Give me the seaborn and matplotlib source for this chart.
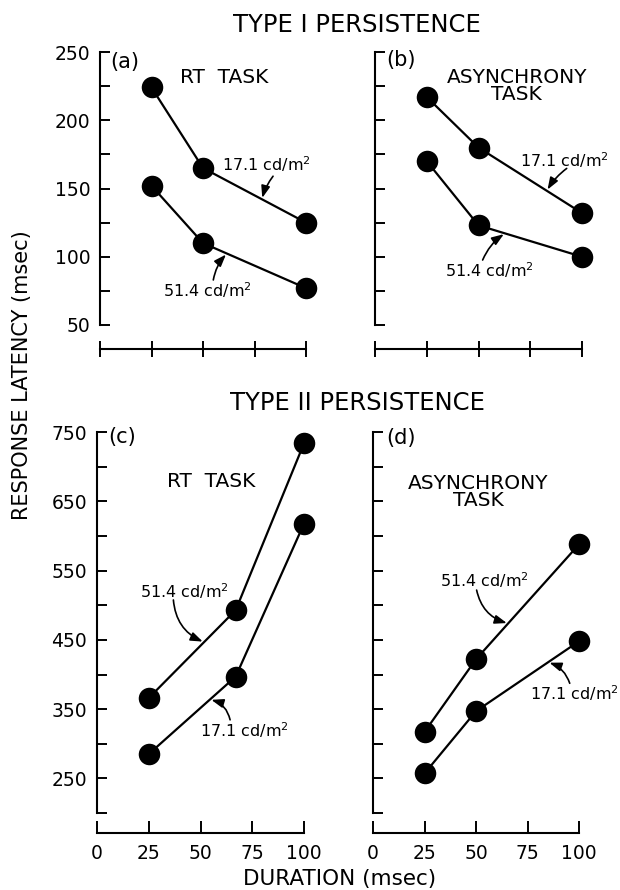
import numpy as np
import pandas as pd
import matplotlib
matplotlib.use("Agg")
import matplotlib.pyplot as plt
import seaborn as sns

# ---------------- data ----------------
duration_a = [25, 50, 100]
a_171 = [224, 165, 125]
a_514 = [152, 110, 77]

duration_b = [25, 50, 100]
b_171 = [217, 180, 132]
b_514 = [170, 123, 100]

duration_c = [25, 67, 100]
c_514 = [366, 493, 734]
c_171 = [285, 397, 618]

duration_d = [25, 50, 100]
d_514 = [317, 422, 588]
d_171 = [257, 347, 448]

lum_labels = ["17.1", "51.4"]
x_ticks = [0, 25, 50, 75, 100]
y_major_top = [50, 100, 150, 200, 250]
y_minor_top = [75, 125, 175, 225]
y_major_bot = [250, 350, 450, 550, 650, 750]
y_minor_bot = [200, 300, 400, 500, 600, 700]

sns.set_theme(style="ticks")
plt.rcParams["font.family"] = ["DejaVu Sans"]
plt.rcParams["text.color"] = "black"
plt.rcParams["axes.labelcolor"] = "black"
plt.rcParams["xtick.color"] = "black"
plt.rcParams["ytick.color"] = "black"
plt.rcParams["mathtext.default"] = "regular"

fig = plt.figure(figsize=(6.2, 8.9), dpi=100)
W, H = 620.0, 890.0

def frac(l, t, w, h):
    return [l / W, (H - t - h) / H, w / W, h / H]

ax_a = fig.add_axes(frac(100, 52, 206, 273))
ax_b = fig.add_axes(frac(375, 52, 207, 273))
ax_c = fig.add_axes(frac(97, 432.3, 207, 380.6))
ax_d = fig.add_axes(frac(373, 432.3, 206, 380.6))


def make_df(dur, v17, v51):
    return pd.DataFrame({
        "duration": list(dur) + list(dur),
        "latency": list(v17) + list(v51),
        "lum": [lum_labels[0]] * len(dur) + [lum_labels[1]] * len(dur),
    })


def draw(ax, dur, v17, v51):
    df = make_df(dur, v17, v51)
    sns.lineplot(data=df, x="duration", y="latency", hue="lum",
                 palette={lum_labels[0]: "black", lum_labels[1]: "black"},
                 estimator=None, legend=False, ax=ax, lw=1.6,
                 marker="o", markersize=15.5, markeredgewidth=0,
                 clip_on=False)
    ax.set_xlabel("")
    ax.set_ylabel("")


def style(ax, top, ylabels):
    ax.set_xlim(0, 100)
    sns.despine(ax=ax)
    ax.set_xticks(x_ticks)
    if top:
        ax.set_ylim(50, 250)
        ax.set_yticks(y_major_top)
        ax.set_yticks(y_minor_top, minor=True)
        ax.spines["bottom"].set_position(("outward", 17.5))
        ax.tick_params(axis="x", direction="inout", length=12, width=1.4,
                       labelbottom=False)
    else:
        ax.set_ylim(200, 750)
        ax.set_yticks(y_major_bot)
        ax.set_yticks(y_minor_bot, minor=True)
        ax.spines["bottom"].set_position(("outward", 14.5))
        ax.tick_params(axis="x", direction="in", length=9, width=1.4,
                       labelsize=13.5, pad=8)
    ax.tick_params(axis="y", which="both", direction="in", length=7,
                   width=1.4, labelsize=13.5, pad=7, labelleft=ylabels)
    for s in ("left", "bottom"):
        ax.spines[s].set_linewidth(1.5)
        ax.spines[s].set_color("black")


def arrow(ax, start, tip_x, dur, vals, rad):
    tip = (tip_x, float(np.interp(tip_x, dur, vals)))
    ax.annotate("", xy=tip, xytext=start,
                arrowprops=dict(arrowstyle="-|>,head_length=0.6,head_width=0.22",
                                color="black", lw=1.2, shrinkA=0, shrinkB=1,
                                connectionstyle=f"arc3,rad={rad}"),
                annotation_clip=False)


lab = "cd/m$^2$"
fs_small = 11.5
fs_task = 14.5
fs_panel = 15

# panel a
draw(ax_a, duration_a, a_171, a_514)
style(ax_a, True, True)
ax_a.text(5.0, 243, "(a)", fontsize=fs_panel, va="center")
ax_a.text(38.8, 231.4, "RT  TASK", fontsize=fs_task, va="center")
ax_a.text(59, 167.7, "17.1 " + lab, fontsize=fs_small, va="center")
arrow(ax_a, (84, 159), 78.6, duration_a, a_171, 0.1)
ax_a.text(30.6, 75.6, "51.4 " + lab, fontsize=fs_small, va="center")
arrow(ax_a, (55, 83), 61.6, duration_a, a_514, -0.15)

# panel b
draw(ax_b, duration_b, b_171, b_514)
style(ax_b, True, False)
ax_b.text(5.5, 244, "(b)", fontsize=fs_panel, va="center")
ax_b.text(68.5, 225, "ASYNCHRONY\nTASK", fontsize=fs_task, va="center",
          ha="center", linespacing=0.9)
ax_b.text(70, 171, "17.1 " + lab, fontsize=fs_small, va="center")
arrow(ax_b, (92.6, 164.7), 83, duration_b, b_171, 0.1)
ax_b.text(33.8, 90.2, "51.4 " + lab, fontsize=fs_small, va="center")
arrow(ax_b, (52, 97.6), 62.8, duration_b, b_514, -0.15)

# panel c
draw(ax_c, duration_c, c_171, c_514)
style(ax_c, False, True)
ax_c.text(5.5, 743.7, "(c)", fontsize=fs_panel, va="center")
ax_c.text(33.8, 678.6, "RT  TASK", fontsize=fs_task, va="center")
ax_c.text(20.8, 520, "51.4 " + lab, fontsize=fs_small, va="center")
arrow(ax_c, (36.9, 507.7), 51.7, duration_c, c_514, 0.3)
ax_c.text(49.8, 320, "17.1 " + lab, fontsize=fs_small, va="center")
arrow(ax_c, (64.3, 334.5), 54.6, duration_c, c_171, 0.3)

# panel d
draw(ax_d, duration_d, d_171, d_514)
style(ax_d, False, False)
ax_d.text(6.5, 742, "(d)", fontsize=fs_panel, va="center")
ax_d.text(51, 664, "ASYNCHRONY\nTASK", fontsize=fs_task, va="center",
          ha="center", linespacing=0.9)
ax_d.text(32.6, 536.6, "51.4 " + lab, fontsize=fs_small, va="center")
arrow(ax_d, (50.3, 522), 65.6, duration_d, d_514, 0.3)
ax_d.text(76, 372.8, "17.1 " + lab, fontsize=fs_small, va="center")
arrow(ax_d, (95.5, 387.3), 85, duration_d, d_171, 0.25)

# titles and axis labels
fig.text(357 / W, 1 - 25 / H, "TYPE I PERSISTENCE", fontsize=17.5,
         ha="center", va="center")
fig.text(357 / W, 1 - 403 / H, "TYPE II PERSISTENCE", fontsize=17.5,
         ha="center", va="center")
fig.text(22 / W, 1 - 375 / H, "RESPONSE LATENCY (msec)", fontsize=15,
         rotation=90, ha="center", va="center")
fig.text(340 / W, 1 - 879 / H, "DURATION (msec)", fontsize=15.5,
         ha="center", va="center")

fig.savefig("out.png", dpi=100)
